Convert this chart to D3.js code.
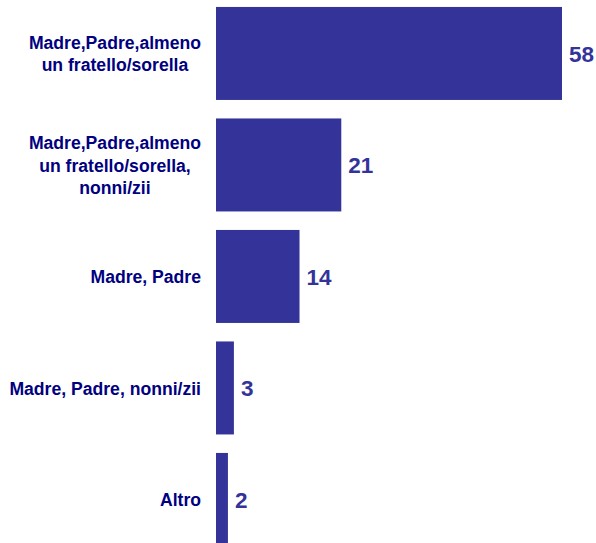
<!DOCTYPE html>
<html><head><meta charset="utf-8">
<script src="https://cdn.jsdelivr.net/npm/d3@7"></script>
<style>body{margin:0;background:#fff}svg{display:block}</style>
</head><body>
<script>
const categories = [
  ["Madre,Padre,almeno", "un fratello/sorella"],
  ["Madre,Padre,almeno", "un fratello/sorella,", "nonni/zii"],
  ["Madre, Padre"],
  ["Madre, Padre, nonni/zii"],
  ["Altro"]
];
const values = [58, 21, 14, 3, 2];

const W = 596, H = 543;
const svg = d3.select("body").append("svg").attr("width", W).attr("height", H);
const ids = categories.map((c, i) => i);
const y = d3.scaleBand().domain(ids).range([-2.3, 555.2]).paddingInner(0.166).paddingOuter(0.083);
const x = d3.scaleLinear().domain([0, 58]).range([216, 562]);

svg.selectAll("rect.bar").data(values).join("rect")
  .attr("class", "bar")
  .attr("x", x(0))
  .attr("y", (d, i) => y(i))
  .attr("width", d => x(d) - x(0))
  .attr("height", y.bandwidth())
  .attr("fill", "#333399");

svg.selectAll("text.val").data(values).join("text")
  .attr("class", "val")
  .attr("x", d => x(d) + 7)
  .attr("y", (d, i) => y(i) + y.bandwidth() / 2)
  .attr("dy", "0.36em")
  .attr("font-family", "Liberation Sans, Arial, sans-serif")
  .attr("font-weight", "bold")
  .attr("font-size", 22.5)
  .attr("fill", "#333399")
  .text(d => d);

const lh = 22.5;
categories.forEach((lines, i) => {
  const g = svg.append("g");
  const cy = y(i) + y.bandwidth() / 2;
  const texts = lines.map((l, j) => g.append("text")
    .attr("y", cy + (j - (lines.length - 1) / 2) * lh)
    .attr("dy", "0.38em")
    .attr("text-anchor", "middle")
    .attr("font-family", "Liberation Sans, Arial, sans-serif")
    .attr("font-weight", "bold")
    .attr("font-size", 17.6)
    .attr("fill", "#000080")
    .text(l));
  const maxW = d3.max(texts, t => t.node().getComputedTextLength());
  texts.forEach(t => t.attr("x", 201 - maxW / 2));
});
</script>
</body></html>
